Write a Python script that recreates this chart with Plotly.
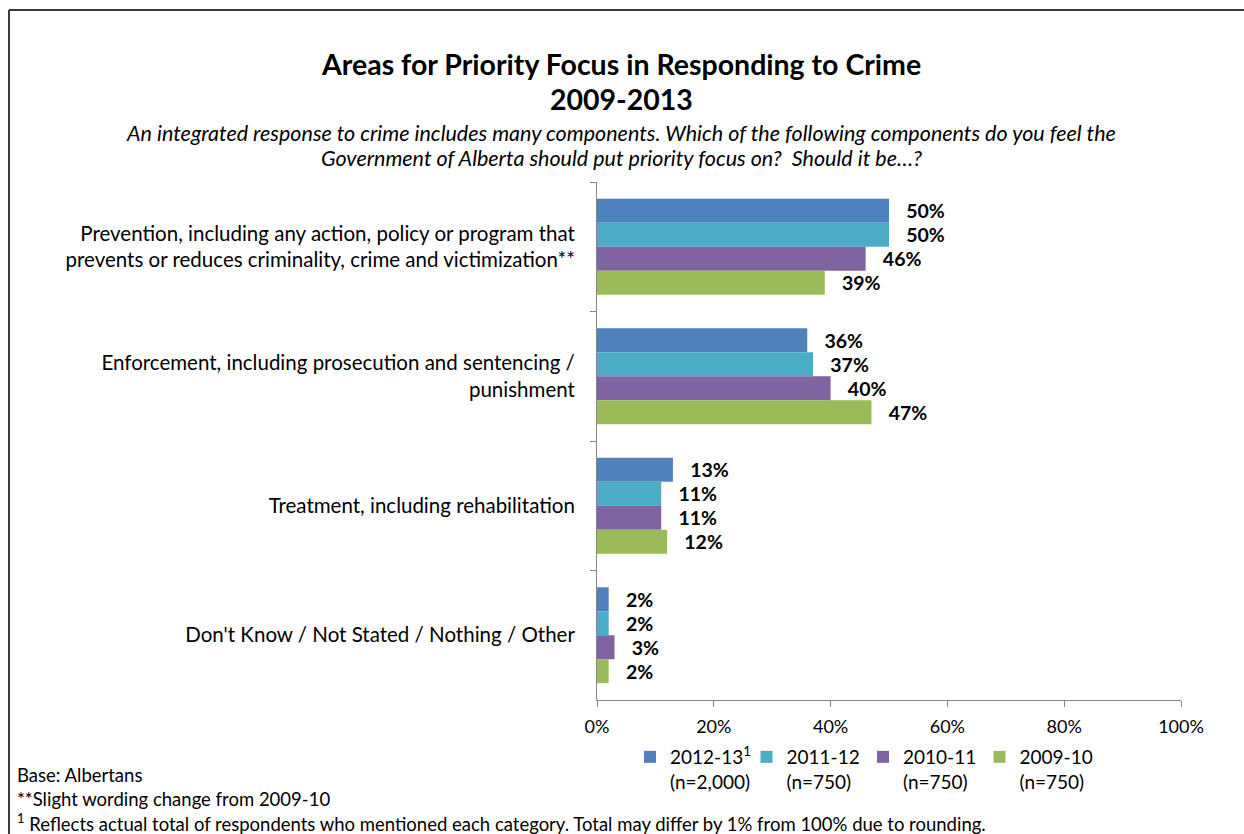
import plotly.graph_objects as go

categories = [
    "Prevention, including any action, policy or program that<br>prevents or reduces criminality, crime and victimization**",
    "Enforcement, including prosecution and sentencing /<br>punishment",
    "Treatment, including rehabilitation",
    "Don't Know / Not Stated / Nothing / Other",
]
series_names = [
    "2012-13<sup>1</sup><br>(n=2,000)",
    "2011-12<br>(n=750)",
    "2010-11<br>(n=750)",
    "2009-10<br>(n=750)",
]
v_2012_13 = [50, 36, 13, 2]
v_2011_12 = [50, 37, 11, 2]
v_2010_11 = [46, 40, 11, 3]
v_2009_10 = [39, 47, 12, 2]
series_values = [v_2012_13, v_2011_12, v_2010_11, v_2009_10]
colors = ["#4F81BD", "#4BACC6", "#8064A2", "#9BBB59"]
x_ticks = [0, 20, 40, 60, 80, 100]

FONT = "Lato"
W, H = 1244, 834
L, R, T, B = 597, 1181, 182, 700


def px(x):
    return (x - L) / (R - L)


def py(y):
    return (B - y) / (B - T)


fig = go.Figure()
for name, vals, col in zip(series_names, series_values, colors):
    fig.add_trace(go.Bar(
        y=categories, x=vals, name=name, orientation="h",
        marker=dict(color=col, line=dict(width=0)),
        text=[f"\u00a0\u00a0\u00a0{v}%" for v in vals],
        textposition="outside", cliponaxis=False,
        textfont=dict(family=FONT, size=19.5, color="black", weight="bold"),
        hoverinfo="skip",
    ))

fig.update_layout(
    width=W, height=H,
    margin=dict(l=L, r=W - R, t=T, b=H - B, autoexpand=False),
    paper_bgcolor="white", plot_bgcolor="white",
    barmode="group", bargap=0.26, bargroupgap=0,
    font=dict(family=FONT, size=20, color="black"),
    showlegend=True,
    legend=dict(
        orientation="h", x=px(630), y=py(738), xanchor="left", yanchor="top",
        font=dict(family=FONT, size=19, color="black"),
        valign="top", traceorder="normal", entrywidth=71.5, itemwidth=30,
        bgcolor="rgba(0,0,0,0)", tracegroupgap=0,
    ),
    xaxis=dict(
        range=[0, 100], tickvals=x_ticks, ticktext=[f"{t}%" for t in x_ticks],
        showgrid=False, zeroline=False, showline=True, linecolor="#868686",
        linewidth=1, ticks="outside", ticklen=6, tickcolor="#868686",
        tickfont=dict(family=FONT, size=18, color="black"), fixedrange=True,
        ticklabelstandoff=4,
    ),
    yaxis=dict(
        autorange="reversed", showgrid=False, zeroline=False, showline=True,
        linecolor="#868686", linewidth=1, ticks="outside", ticklen=6,
        tickcolor="#868686", tickson="boundaries",
        tickfont=dict(family=FONT, size=20.5, color="black"), fixedrange=True,
        ticklabelstandoff=17,
    ),
)

annots = [
    ("<b>Areas for Priority Focus in Responding to Crime</b>", 64, 28.5),
    ("<b>2009-2013</b>", 99, 28.5),
    ("<i>An integrated response to crime includes many components. Which of the following components do you feel the</i>", 133, 21.5),
    ("<i>Government of Alberta should put priority focus on?  Should it be\u2026?</i>", 158, 21.5),
]
for txt, yy, sz in annots:
    fig.add_annotation(text=txt, x=px(621), y=py(yy), xref="paper", yref="paper",
                       xanchor="center", yanchor="middle", showarrow=False,
                       font=dict(family=FONT, size=sz, color="black"))

footnotes = [
    ("Base: Albertans", 775),
    ("**Slight wording change from 2009-10", 799),
    ("<sup>1</sup> Reflects actual total of respondents who mentioned each category. Total may differ by 1% from 100% due to rounding.", 822),
]
for txt, yy in footnotes:
    fig.add_annotation(text=txt, x=px(15), y=py(yy), xref="paper", yref="paper",
                       xanchor="left", yanchor="middle", showarrow=False,
                       font=dict(family=FONT, size=18.5, color="black"))

# outer border of the chart area
fig.add_shape(type="line", xref="paper", yref="paper", x0=px(9), x1=px(W + 5), y0=py(10), y1=py(10),
              line=dict(color="#3a3a3a", width=2))
fig.add_shape(type="line", xref="paper", yref="paper", x0=px(9), x1=px(9), y0=py(10), y1=py(H + 5),
              line=dict(color="#3a3a3a", width=2))

fig.write_html("out.html")
